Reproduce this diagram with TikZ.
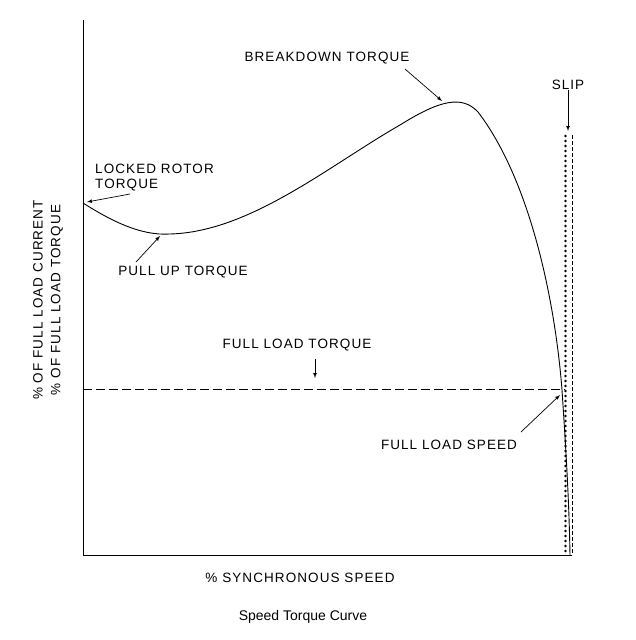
\documentclass[tikz,border=0pt]{standalone}
\usepackage{fontspec}
\setmainfont{Liberation Sans}
\newfontfamily\capsf[LetterSpace=8]{Liberation Sans}
\begin{document}
\begin{tikzpicture}[x=1pt,y=-1pt,
  lbl/.style={font=\capsf\fontsize{13.5}{15}\selectfont,inner sep=0pt},
  arr/.style={-latex,line width=0.7pt}]
\useasboundingbox (0,0) rectangle (635,640);
\coordinate (top) at (83,20);
\coordinate (orig) at (83,555);
\coordinate (xend) at (572,555);
\draw[line width=1pt] (top) -- (orig) -- (xend);
\draw[line width=0.9pt] (83,203) .. controls (110,220) and (140,236) .. (170,234)
  .. controls (250,232) and (330,165) .. (400,125)
  .. controls (440,100) and (462,95) .. (478,112)
  .. controls (530,180) and (555,300) .. (562,390)
  .. controls (566,450) and (569,500) .. (570,555);
\draw[dash pattern=on 9pt off 4pt,line width=0.8pt] (83,389) -- (565,389);
\foreach \yy in {136,141,...,554} {\fill (565.5,\yy) circle (1.4pt);}
\draw[dash pattern=on 4pt off 2pt,line width=0.6pt] (572,135) -- (572,555);
\node[lbl] (bt) at (327,58) {BREAKDOWN TORQUE};
\coordinate (btp) at (442,101);
\draw[arr] (405,69) -- (btp);
\node[lbl] (slip) at (568,85) {SLIP};
\coordinate (slp) at (568,131);
\draw[arr] (slip.south) -- (slp);
\node[lbl,align=left,anchor=west] (lr) at (95,178) {LOCKED ROTOR\\TORQUE};
\coordinate (lrp) at (87,202);
\draw[arr] (130,194) -- (lrp);
\node[lbl] (pu) at (183,272) {PULL UP TORQUE};
\coordinate (pup) at (160,236);
\draw[arr] (136,262) -- (pup);
\node[lbl] (flt) at (297,345) {FULL LOAD TORQUE};
\coordinate (fltp) at (315,378);
\draw[arr] (315,359) -- (fltp);
\node[lbl] (fls) at (449,445) {FULL LOAD SPEED};
\coordinate (flsp) at (560,395);
\draw[arr] (521,432) -- (flsp);
\node[lbl,rotate=90] (yc) at (38,300) {\% OF FULL LOAD CURRENT};
\node[lbl,rotate=90] (yt) at (57,300) {\% OF FULL LOAD TORQUE};
\node[lbl] (xs) at (300,578) {\% SYNCHRONOUS SPEED};
\node[font=\fontsize{14}{16}\selectfont] (cap) at (303,617) {Speed Torque Curve};
\end{tikzpicture}
\end{document}
